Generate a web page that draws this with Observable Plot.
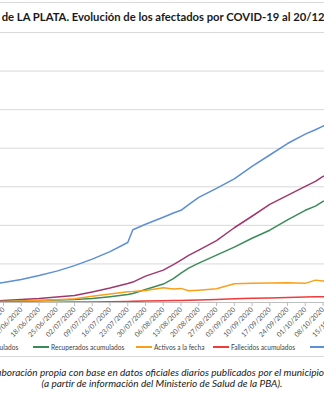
<!DOCTYPE html>
<html>
<head>
<meta charset="utf-8">
<script src="https://cdn.jsdelivr.net/npm/d3@7"></script>
<script src="https://cdn.jsdelivr.net/npm/@observablehq/plot@0.6"></script>
<style>
html, body { margin:0; padding:0; overflow:hidden; background:#fff; }
#wrap { position:relative; width:324px; height:400px; overflow:hidden; background:#fff; font-family: Lato, "Open Sans", sans-serif; }
#chart { position:absolute; left:0; top:0; width:360px; }
#chart svg { max-width:none !important; width:360px; height:340px; }
.hline { position:absolute; left:0; width:324px; height:1px; background:#d9d9d9; }
#title { position:absolute; left:1.7px; top:10.5px; white-space:nowrap; font-weight:bold; font-size:11px; line-height:12px; color:#1a1a1a; }
.leg { position:absolute; top:343px; height:8px; display:flex; align-items:center; white-space:nowrap; font-size:6.6px; color:#404040; }
.sw { display:inline-block; width:16px; height:2px; margin-right:2px; }
.cap { position:absolute; white-space:nowrap; font-style:italic; font-size:9.5px; line-height:11px; color:#1a1a1a; }
</style>
</head>
<body>
<div id="wrap">
  <div class="hline" style="top:2px"></div>
  <div id="chart"></div>
  <div id="title"><span id="t1">de LA PLATA. Evolución de los afectados por COVID-19 al 20/12</span><span>/2020</span></div>
  <div id="legend"></div>
  <div class="hline" style="top:356px"></div>
  <div class="cap" id="cap1"><span id="c1pre">Ela</span>boración propia con base en datos oficiales diarios publicados por el municipio de La Plata</div>
  <div class="cap" id="cap2">(a partir de información del Ministerio de Salud de la PBA).</div>
</div>
<script>
// ---- data ----
const dates = ["2020-05-31","2020-06-04","2020-06-11","2020-06-18","2020-06-25","2020-07-02","2020-07-09","2020-07-16","2020-07-23","2020-07-25","2020-07-30","2020-08-06","2020-08-10","2020-08-13","2020-08-16","2020-08-20","2020-08-27","2020-09-03","2020-09-10","2020-09-17","2020-09-24","2020-10-01","2020-10-05","2020-10-08","2020-10-12"];
const sospechosos = [2420,2580,2970,3490,4070,4780,5620,6590,7780,9430,10140,11050,11600,11950,12700,13630,14790,16020,17640,19120,20610,21830,22400,22870,23500];
const confirmados = [200,260,390,520,710,900,1360,1870,2460,2650,3420,4200,4900,5490,6100,6780,8010,9690,11180,12730,13890,15050,15700,16340,16900];
const recuperados = [100,130,190,260,320,390,520,750,1030,1160,1680,2390,3100,3810,4450,5100,6140,7170,8330,9370,10720,11950,12500,13110,13600];
const activos = [110,130,190,250,370,490,800,1100,1400,1420,1560,1900,1760,1830,1520,1600,1780,2420,2500,2530,2550,2480,2900,2780,2850];
const fallecidos = [15,18,25,35,45,60,80,110,140,150,180,220,245,270,300,330,400,470,540,590,640,700,730,750,780];
const seriesNames = ["Confirmados acumulados","Recuperados acumulados","Activos a la fecha","Fallecidos acumulados","Sospechosos acumulados"];
const seriesColors = ["#a0386f","#3b8a5a","#f9a01b","#f23a3a","#5b8fd6"];
const seriesValues = [confirmados, recuperados, activos, fallecidos, sospechosos];
const tickDates = ["2020-06-04","2020-06-11","2020-06-18","2020-06-25","2020-07-02","2020-07-09","2020-07-16","2020-07-23","2020-07-30","2020-08-06","2020-08-13","2020-08-20","2020-08-27","2020-09-03","2020-09-10","2020-09-17","2020-09-24","2020-10-01","2020-10-08","2020-10-15"];
const yTicks = [0,5000,10000,15000,20000,25000,30000,35000];

const rows = [];
seriesValues.forEach((vals, i) => {
  vals.forEach((v, j) => rows.push({serie: seriesNames[i], date: new Date(dates[j]), value: v}));
});
const drawOrder = [4,0,1,2,3];

const chart = Plot.plot({
  width: 360,
  height: 340,
  marginLeft: 0,
  marginRight: 0,
  marginTop: 32,
  marginBottom: 38,
  style: {fontFamily: "Lato, 'Open Sans', sans-serif", fontSize: "7px", overflow: "visible", background: "transparent", maxWidth: "none"},
  x: {type: "utc", domain: [new Date("2020-06-02T19:36Z"), new Date("2020-10-22T18:40Z")]},
  y: {domain: [0, 35000], axis: null},
  marks: [
    Plot.gridY(yTicks, {stroke: "#d9d9d9", strokeOpacity: 1, strokeWidth: 1}),
    Plot.ruleY([0], {stroke: "#bfbfbf"}),
    Plot.axisX(tickDates.map(d => new Date(d)), {
      tickFormat: d3.utcFormat("%d/%m/%Y"),
      tickRotate: -45,
      tickSize: 4,
      tickPadding: 2,
      stroke: "#bfbfbf",
      fill: "#595959",
      fontSize: 7,
      label: null
    }),
    ...drawOrder.map(i => Plot.lineY(rows.filter(r => r.serie === seriesNames[i]), {
      x: "date", y: "value", stroke: seriesColors[i], strokeWidth: 1.5, clip: true
    }))
  ]
});
document.getElementById("chart").appendChild(chart);

// legend
const legendPos = [
  {i: 0, right: 305.7},
  {i: 1, left: 33},
  {i: 2, left: 136},
  {i: 3, left: 213},
  {i: 4, left: 310}
];
const legend = document.getElementById("legend");
legendPos.forEach(p => {
  const el = document.createElement("div");
  el.className = "leg";
  if (p.left !== undefined) el.style.left = p.left + "px"; else el.style.right = p.right + "px";
  const sw = document.createElement("span");
  sw.className = "sw";
  sw.style.background = seriesColors[p.i];
  const tx = document.createElement("span");
  tx.textContent = seriesNames[p.i];
  el.appendChild(sw); el.appendChild(tx);
  legend.appendChild(el);
});

// fit title so its visible part spans the width
const t1 = document.getElementById("t1");
const title = document.getElementById("title");
const w1 = t1.getBoundingClientRect().width;
title.style.fontSize = (11 * 323 / w1) + "px";

// captions
const cap2 = document.getElementById("cap2");
const w2 = cap2.getBoundingClientRect().width;
const fs = 9.5 * 241 / w2;
cap2.style.fontSize = fs + "px";
cap2.style.left = (162 - cap2.getBoundingClientRect().width / 2) + "px";
cap2.style.top = "378px";
const cap1 = document.getElementById("cap1");
cap1.style.fontSize = fs + "px";
const pre = document.getElementById("c1pre").getBoundingClientRect().width;
cap1.style.left = (1.5 - pre) + "px";
cap1.style.top = "366.5px";
</script>
</body>
</html>
